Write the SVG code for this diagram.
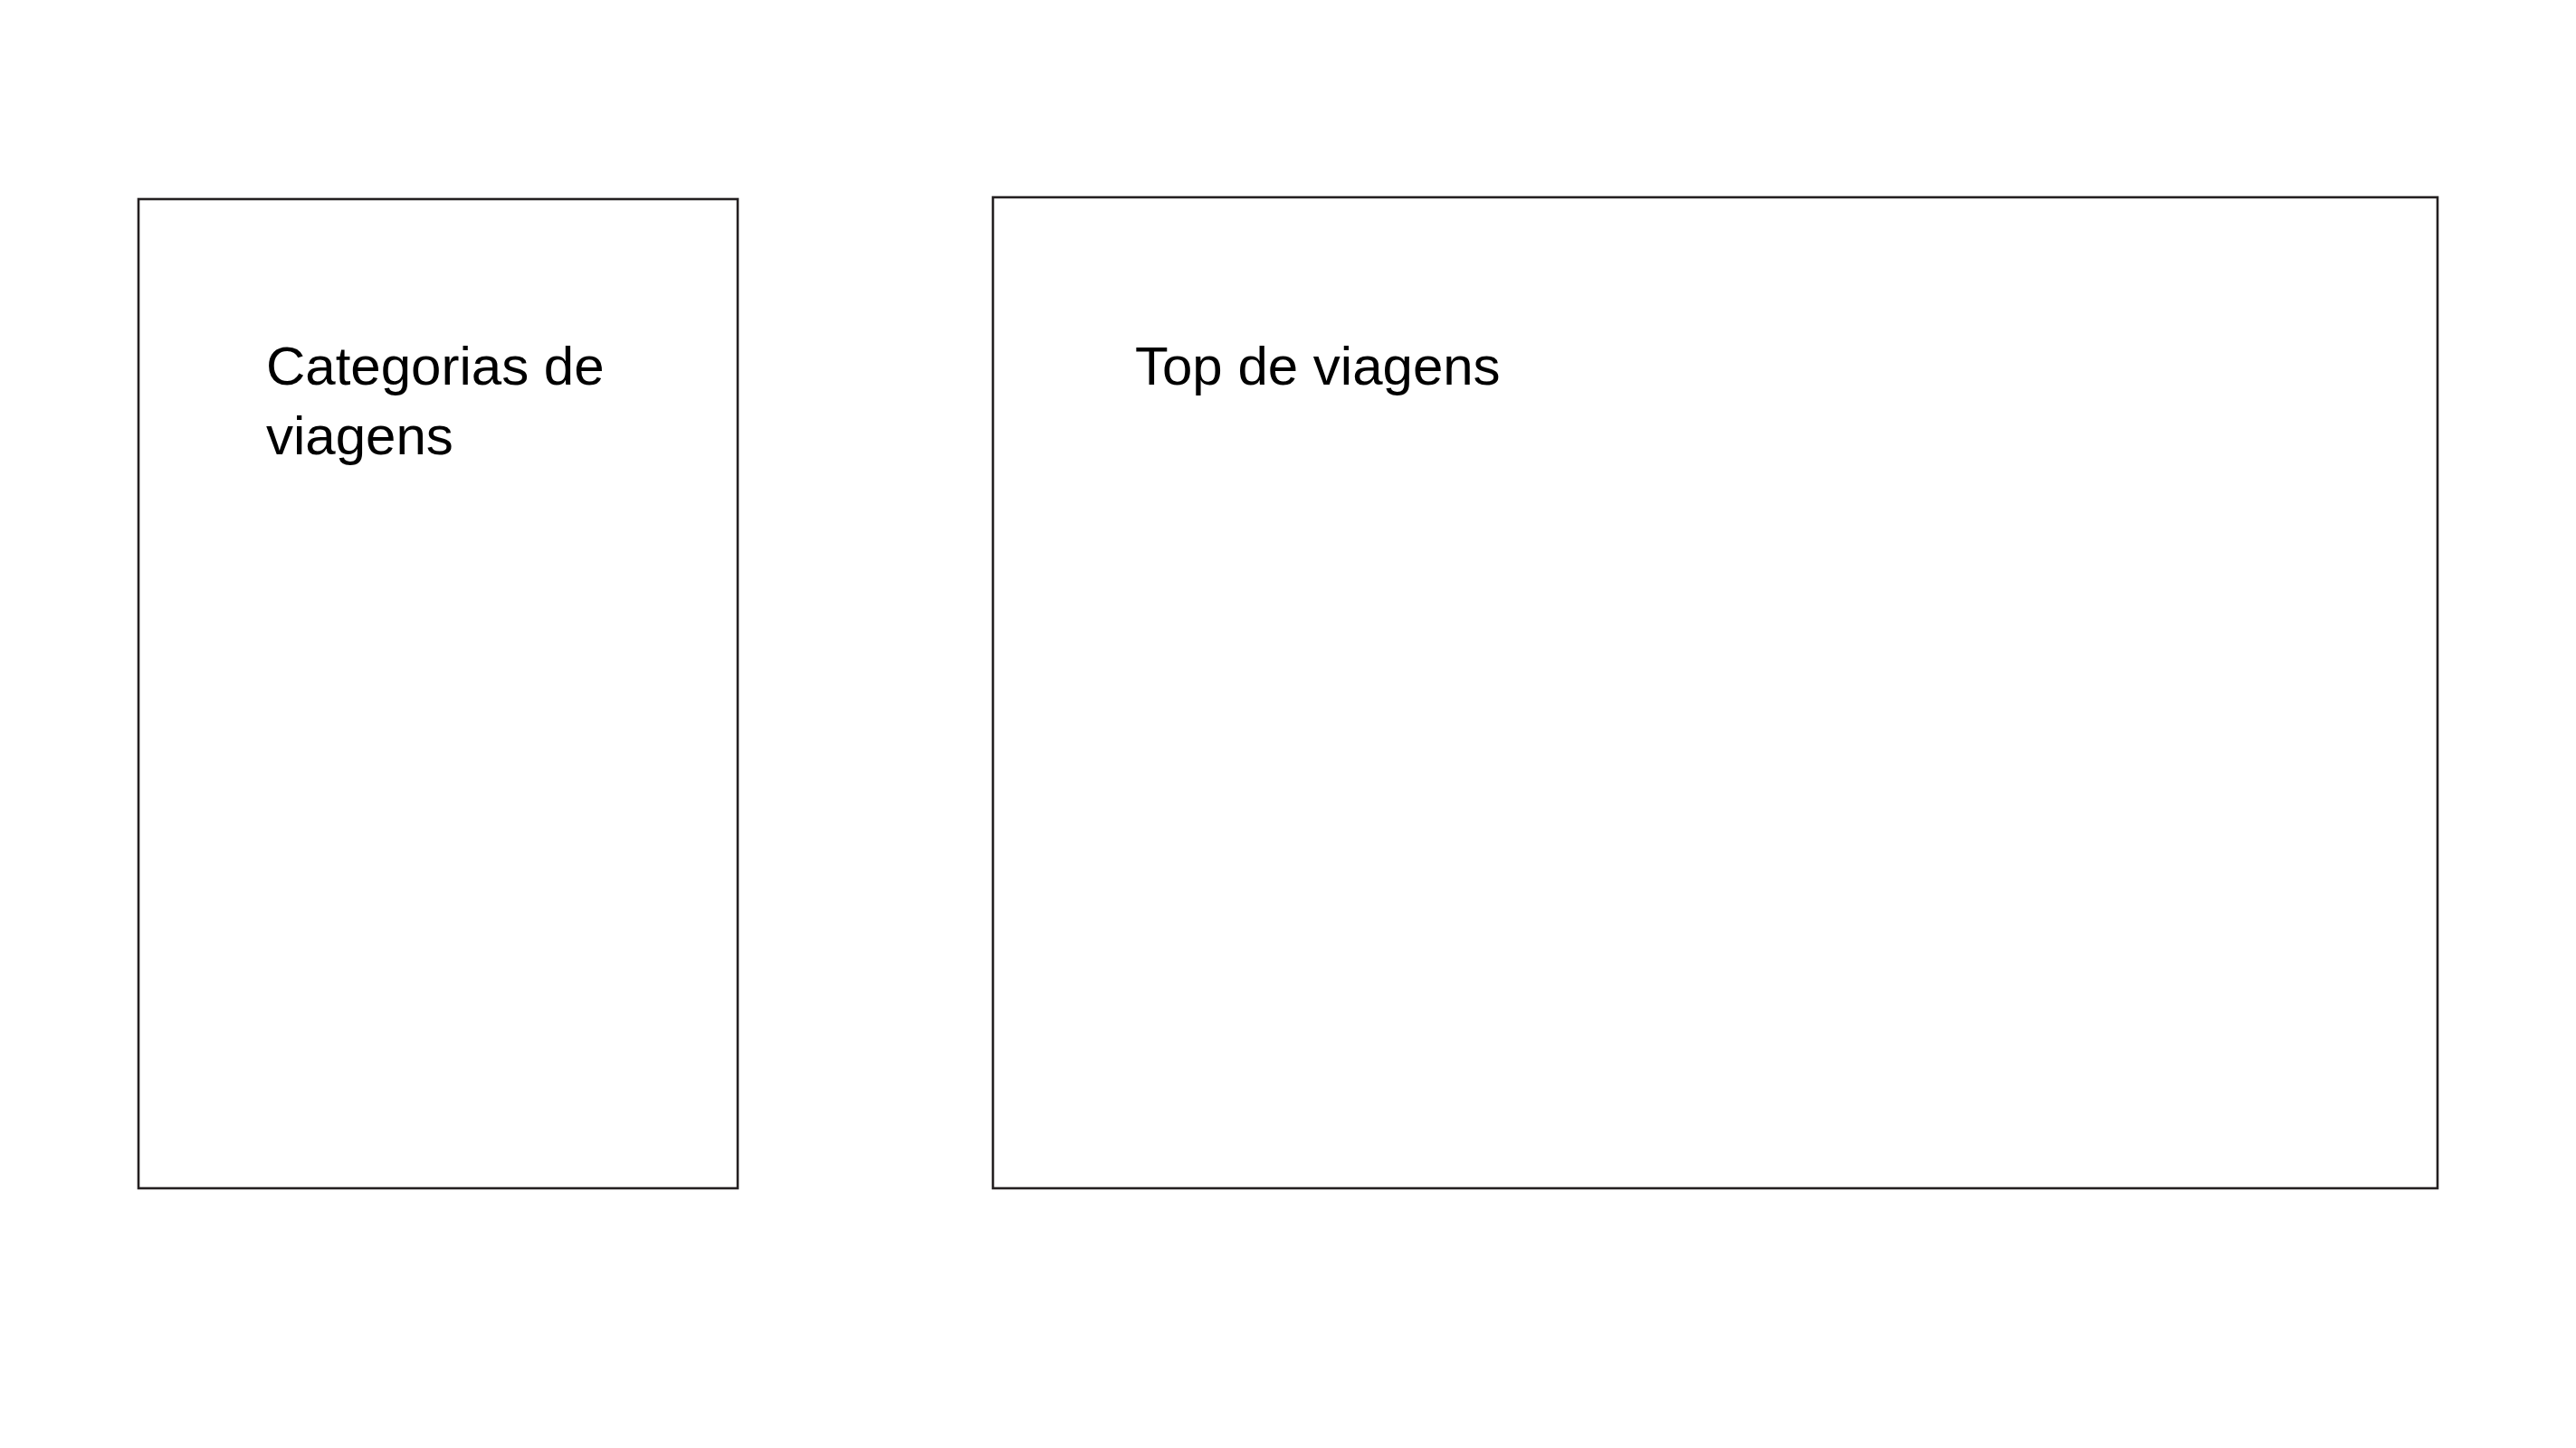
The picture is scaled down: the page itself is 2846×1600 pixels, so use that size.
<svg xmlns="http://www.w3.org/2000/svg" width="2846" height="1600" viewBox="0 0 2846 1600">
<style>
.box{fill:#fff;stroke:#231f20;stroke-width:2.6}
.lbl{font-family:"Liberation Sans",Arial,sans-serif;font-size:60px;fill:#000}
</style>
<rect width="2846" height="1600" fill="#fff"/>
<g id="categorias">
<rect class="box" x="153" y="220" width="662" height="1093"/>
<text class="lbl" x="294" y="425">Categorias de</text>
<text class="lbl" x="294" y="502">viagens</text>
</g>
<g id="top">
<rect class="box" x="1097" y="218" width="1596" height="1095"/>
<text class="lbl" x="1254" y="425">Top de viagens</text>
</g>
<g id="connectors"></g>
</svg>
